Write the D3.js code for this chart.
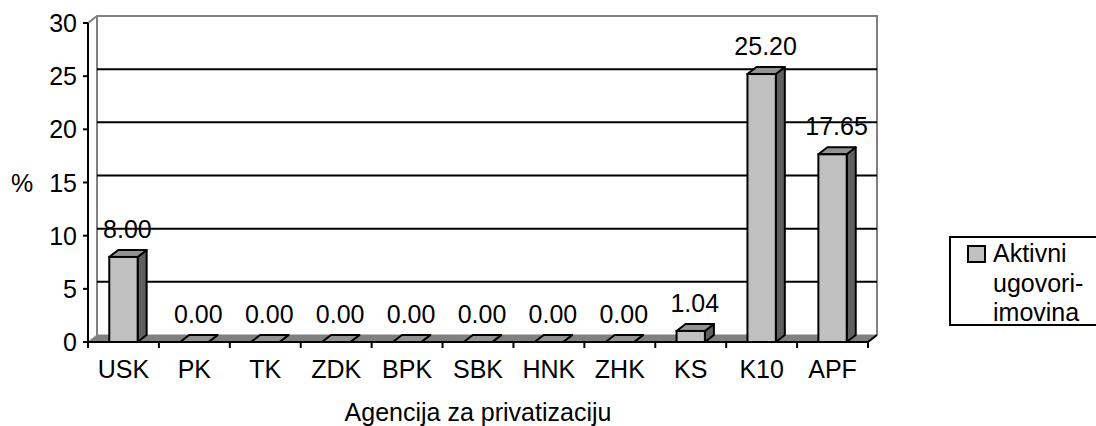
<!DOCTYPE html>
<html>
<head>
<meta charset="utf-8">
<script src="https://cdn.jsdelivr.net/npm/d3@7"></script>
<style>
  html, body { margin: 0; padding: 0; background: #fff; }
  svg { display: block; }
  text { font-family: "Liberation Sans", Arial, sans-serif; font-size: 25px; fill: #000; }
</style>
</head>
<body>
<svg id="chart" width="1096" height="426"></svg>
<script>
const categories = ["USK", "PK", "TK", "ZDK", "BPK", "SBK", "HNK", "ZHK", "KS", "K10", "APF"];
const values = [8.00, 0.00, 0.00, 0.00, 0.00, 0.00, 0.00, 0.00, 1.04, 25.20, 17.65];
const yTicks = [0, 5, 10, 15, 20, 25, 30];
const seriesName = ["Aktivni", "ugovori-", "imovina"];
const yTitle = "%";
const xTitle = "Agencija za privatizaciju";

const svg = d3.select('#chart');

// plot geometry (front plane + depth offset for the 3D look)
const pLeft = 88, pRight = 868, pBottom = 342, pTop = 23;
const dx = 9, dy = -7;

const x = d3.scaleBand(categories, [pLeft, pRight]).paddingInner(0.6).paddingOuter(0.3);
const y = d3.scaleLinear([0, 30], [pBottom, pTop]);
const step = x.step();
const bw = x.bandwidth();

const front = '#c0c0c0', topCol = '#939393', sideCol = '#5f5f5f', floorCol = '#808080';

// back wall
const wall = svg.append('g');
wall.append('path')
  .attr('d', `M${pLeft},${pTop}L${pLeft + dx},${pTop + dy}L${pRight + dx},${pTop + dy}L${pRight + dx},${pBottom + dy}`)
  .attr('fill', 'none').attr('stroke', '#808080').attr('stroke-width', 2);
wall.append('line')
  .attr('x1', pLeft + dx).attr('x2', pLeft + dx)
  .attr('y1', pTop + dy).attr('y2', pBottom + dy)
  .attr('stroke', '#808080').attr('stroke-width', 2);

// gridlines on back wall
wall.selectAll('.grid')
  .data(yTicks.filter(t => t > 0 && t < 30))
  .join('line')
  .attr('x1', pLeft + dx).attr('x2', pRight + dx)
  .attr('y1', d => y(d) + dy).attr('y2', d => y(d) + dy)
  .attr('stroke', '#000').attr('stroke-width', 2);

// floor
svg.append('path')
  .attr('d', `M${pLeft},${pBottom}L${pLeft + dx},${pBottom + dy}L${pRight + dx},${pBottom + dy}L${pRight},${pBottom}Z`)
  .attr('fill', floorCol).attr('stroke', floorCol).attr('stroke-width', 1);
svg.append('line')
  .attr('x1', pRight).attr('y1', pBottom).attr('x2', pRight + dx).attr('y2', pBottom + dy)
  .attr('stroke', '#000').attr('stroke-width', 2);

// bars
const data = categories.map((c, i) => ({cat: c, v: values[i]}));
const bars = svg.append('g').selectAll('g').data(data).join('g');

bars.append('path') // side
  .attr('d', d => {
    const x0 = x(d.cat) + bw, yv = y(d.v), y0 = y(0);
    return `M${x0},${yv}L${x0 + dx},${yv + dy}L${x0 + dx},${y0 + dy}L${x0},${y0}Z`;
  })
  .attr('fill', sideCol).attr('stroke', '#000').attr('stroke-width', 2).attr('stroke-linejoin', 'round');

bars.append('path') // top
  .attr('d', d => {
    const x0 = x(d.cat), yv = y(d.v);
    return `M${x0},${yv}L${x0 + dx},${yv + dy}L${x0 + bw + dx},${yv + dy}L${x0 + bw},${yv}Z`;
  })
  .attr('fill', topCol).attr('stroke', '#000').attr('stroke-width', 2).attr('stroke-linejoin', 'round');

bars.filter(d => d.v > 0).append('rect') // front
  .attr('x', d => x(d.cat))
  .attr('y', d => y(d.v))
  .attr('width', bw)
  .attr('height', d => y(0) - y(d.v))
  .attr('fill', front).attr('stroke', '#000').attr('stroke-width', 2);

// value labels
bars.append('text')
  .attr('x', d => x(d.cat) + bw / 2 + 4)
  .attr('y', d => y(d.v) + dy - 12)
  .attr('text-anchor', 'middle')
  .text(d => d.v.toFixed(2));

// y axis
const yAxis = svg.append('g');
yAxis.append('line')
  .attr('x1', pLeft).attr('x2', pLeft).attr('y1', pTop).attr('y2', pBottom)
  .attr('stroke', '#000').attr('stroke-width', 2);
yAxis.selectAll('.tick')
  .data(yTicks)
  .join('line')
  .attr('x1', pLeft - 5).attr('x2', pLeft)
  .attr('y1', d => y(d)).attr('y2', d => y(d))
  .attr('stroke', '#000').attr('stroke-width', 2);
yAxis.selectAll('.lbl')
  .data(yTicks)
  .join('text')
  .attr('x', pLeft - 11)
  .attr('y', d => y(d))
  .attr('text-anchor', 'end')
  .attr('dominant-baseline', 'central')
  .text(d => d);

svg.append('text')
  .attr('x', 22).attr('y', (pTop + pBottom) / 2)
  .attr('text-anchor', 'middle').attr('dominant-baseline', 'central')
  .text(yTitle);

// x axis
const xAxis = svg.append('g');
xAxis.append('line')
  .attr('x1', pLeft).attr('x2', pRight).attr('y1', pBottom).attr('y2', pBottom)
  .attr('stroke', '#000').attr('stroke-width', 2);
xAxis.selectAll('.tick')
  .data(d3.range(categories.length + 1))
  .join('line')
  .attr('x1', i => pLeft + i * step).attr('x2', i => pLeft + i * step)
  .attr('y1', pBottom).attr('y2', pBottom + 6)
  .attr('stroke', '#000').attr('stroke-width', 2);
xAxis.selectAll('.lbl')
  .data(categories)
  .join('text')
  .attr('x', d => x(d) + bw / 2)
  .attr('y', 378)
  .attr('text-anchor', 'middle')
  .text(d => d);

svg.append('text')
  .attr('x', (pLeft + pRight) / 2).attr('y', 421)
  .attr('text-anchor', 'middle')
  .text(xTitle);

// legend
const legend = svg.append('g');
legend.append('rect')
  .attr('x', 950).attr('y', 237).attr('width', 152).attr('height', 88)
  .attr('fill', '#fff').attr('stroke', '#000').attr('stroke-width', 2);
legend.append('rect')
  .attr('x', 968).attr('y', 246).attr('width', 17).attr('height', 16)
  .attr('fill', front).attr('stroke', '#000').attr('stroke-width', 2);
legend.selectAll('.ln')
  .data(seriesName)
  .join('text')
  .attr('x', 993)
  .attr('y', (d, i) => 262 + i * 29.5)
  .text(d => d);
</script>
</body>
</html>
